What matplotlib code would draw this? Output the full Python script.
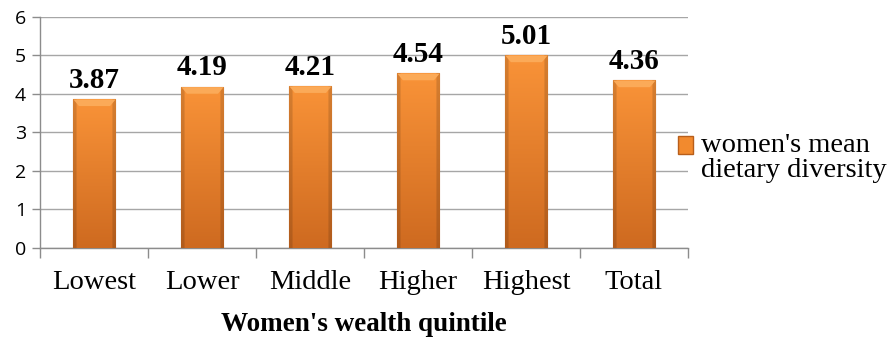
import matplotlib
matplotlib.use("Agg")
import matplotlib.pyplot as plt
import numpy as np
from matplotlib.patches import Patch

categories = ["Lowest", "Lower", "Middle", "Higher", "Highest", "Total"]
values = [3.87, 4.19, 4.21, 4.54, 5.01, 4.36]
value_labels = ["3.87", "4.19", "4.21", "4.54", "5.01", "4.36"]
series_name = "women's mean\ndietary diversity"
xlabel = "Women's wealth quintile"
yticks = [0, 1, 2, 3, 4, 5, 6]

fig = plt.figure(figsize=(8.93, 3.40), dpi=100)
ax = fig.add_axes([0.0448, 0.2706, 0.7255, 0.6794])

x = np.arange(len(categories))
bars = ax.bar(x, values, width=0.39, color="#F28A2E", edgecolor="#B0561A",
              linewidth=0.8, zorder=3)

# vertical shading: lighter orange at top, deeper at bottom, darker side bevels
top_c = np.array([249, 147, 56]) / 255
bot_c = np.array([206, 106, 32]) / 255
rows = np.linspace(0, 1, 120)[:, None, None]
cols = np.linspace(0, 1, 60)[None, :, None]
base = top_c * (1 - rows) + bot_c * rows
edge = np.minimum(cols, 1 - cols)
shade = np.where(edge < 0.07, 0.86, 1.0)
img = np.clip(base * shade, 0, 1)
for b in bars:
    bx, bw, bh = b.get_x(), b.get_width(), b.get_height()
    im = ax.imshow(img, extent=[bx, bx + bw, 0, bh], aspect="auto",
                   interpolation="bilinear", zorder=3.5)
    im.set_clip_path(b)
    ax.fill_between([bx, bx + bw * 0.13, bx + bw * 0.87, bx + bw],
                    [bh, bh - 0.17, bh - 0.17, bh], [bh] * 4,
                    color="#FBAA58", lw=0, zorder=4)

for xi, v, lab in zip(x, values, value_labels):
    ax.text(xi, v + 0.14, lab, ha="center", va="bottom", fontsize=21,
            fontweight="bold", family="Liberation Serif", zorder=5)

ax.set_xlim(-0.5, len(categories) - 0.5)
ax.set_ylim(0, 6)
ax.set_yticks(yticks)
ax.set_yticklabels([str(t) for t in yticks], fontsize=14, family="Open Sans")
ax.set_xticks(x)
ax.set_xticklabels(categories, fontsize=20.5, family="Liberation Serif")
ax.set_xticks(np.arange(len(categories) + 1) - 0.5, minor=True)
ax.tick_params(axis="x", which="major", length=0, pad=16)
ax.tick_params(axis="x", which="minor", length=7, color="#8C8C8C", width=1)
ax.tick_params(axis="y", length=6, color="#8C8C8C", width=1, pad=4)
ax.yaxis.grid(True, color="#A6A6A6", lw=1, zorder=0)
ax.set_axisbelow(True)
for s in ["top", "right"]:
    ax.spines[s].set_visible(False)
for s in ["left", "bottom"]:
    ax.spines[s].set_color("#8C8C8C")
    ax.spines[s].set_linewidth(1)

ax.set_xlabel(xlabel, fontsize=19.5, fontweight="bold", family="Liberation Serif", labelpad=12)

leg = fig.legend(handles=[Patch(facecolor="#F28A2E", edgecolor="#B85E1A", label=series_name)],
                 loc="center left", bbox_to_anchor=(0.759, 0.535), frameon=False,
                 prop={"family": "Liberation Serif", "size": 20.5},
                 handlelength=0.55, handleheight=0.55, handletextpad=0.25,
                 borderpad=0, borderaxespad=0, labelspacing=0.1)
for t in leg.get_texts():
    t.set_linespacing(1.02)
h = leg.legend_handles[0]
h.set_y(h.get_y() + 9)

fig.savefig("out.png", dpi=100)
